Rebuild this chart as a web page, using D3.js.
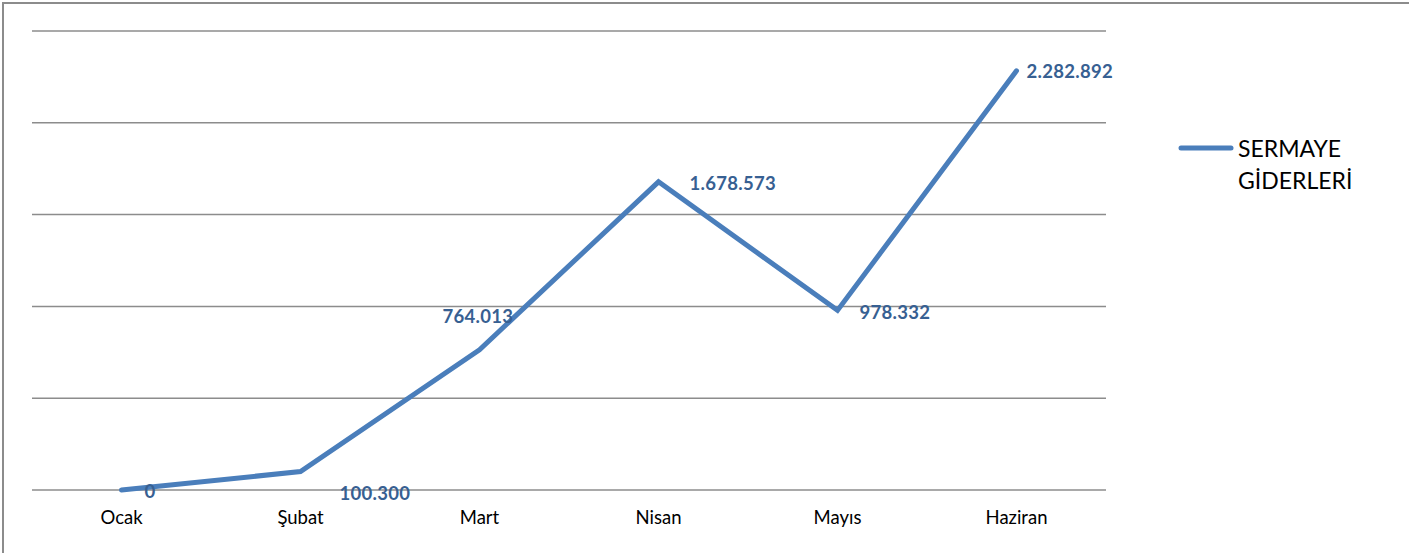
<!DOCTYPE html>
<html><head><meta charset="utf-8">
<script src="https://cdn.jsdelivr.net/npm/d3@7/dist/d3.min.js"></script>
<style>
html,body{margin:0;padding:0;background:#fff;}
svg{display:block;}
</style></head>
<body>
<svg id="chart" width="1409" height="553"></svg>
<script>
const categories = ["Ocak","Şubat","Mart","Nisan","Mayıs","Haziran"];
const values = [0, 100300, 764013, 1678573, 978332, 2282892];
const valueLabels = ["0","100.300","764.013","1.678.573","978.332","2.282.892"];
const yTicks = [0, 500000, 1000000, 1500000, 2000000, 2500000];
const seriesName = ["SERMAYE", "GİDERLERİ"];

// label placement offsets (layout, not data): left edge of text relative to point, vertical offset
const labelOffsets = [[23,1],[39,22],[-37,-33],[31,2],[22,2],[10,1]];

const svg = d3.select("#chart");
const font = "Lato, 'Open Sans', sans-serif";

// outer frame
svg.append("rect").attr("x",3).attr("y",3).attr("width",1420).attr("height",570)
  .attr("fill","none").attr("stroke","#8c8c8c").attr("stroke-width",2);

const x = d3.scaleBand().domain(categories).range([32,1106]);
const y = d3.scaleLinear().domain([0,2500000]).range([490,31]);

// gridlines
svg.append("g").selectAll("line").data(yTicks).join("line")
  .attr("x1",32).attr("x2",1106)
  .attr("y1",d=>y(d)).attr("y2",d=>y(d))
  .attr("stroke","#8c8c8c").attr("stroke-width",1.5);

// x axis labels
const xAxis = d3.axisBottom(x).tickSize(0).tickPadding(0);
const gx = svg.append("g").attr("transform","translate(0,490)").call(xAxis);
gx.select(".domain").remove();
gx.selectAll("text").attr("font-family",font).attr("font-size",18.5).attr("fill","#000")
  .attr("dy",null).attr("y",34);

const cx = d => x(d) + x.bandwidth()/2;

// line
const line = d3.line().x((d,i)=>cx(categories[i])).y(d=>y(d));
svg.append("path").datum(values).attr("d",line)
  .attr("fill","none").attr("stroke","#4A7EBB").attr("stroke-width",5)
  .attr("stroke-linejoin","miter").attr("stroke-linecap","round");

// data labels
svg.append("g").selectAll("text").data(values).join("text")
  .attr("x",(d,i)=>cx(categories[i]) + labelOffsets[i][0])
  .attr("y",(d,i)=>y(d) + labelOffsets[i][1] + 6.5)
  .attr("font-family",font).attr("font-weight","bold").attr("font-size",18.5)
  .attr("letter-spacing","0.3px")
  .attr("fill","#376092")
  .text((d,i)=>valueLabels[i]);

// legend
svg.append("line").attr("x1",1181).attr("x2",1231).attr("y1",148).attr("y2",148)
  .attr("stroke","#4A7EBB").attr("stroke-width",5).attr("stroke-linecap","round");
svg.append("g").selectAll("text").data(seriesName).join("text")
  .attr("x",1238).attr("y",(d,i)=>157 + i*32)
  .attr("font-family",font).attr("font-size",23).attr("fill","#000")
  .text(d=>d);
</script>
</body></html>
